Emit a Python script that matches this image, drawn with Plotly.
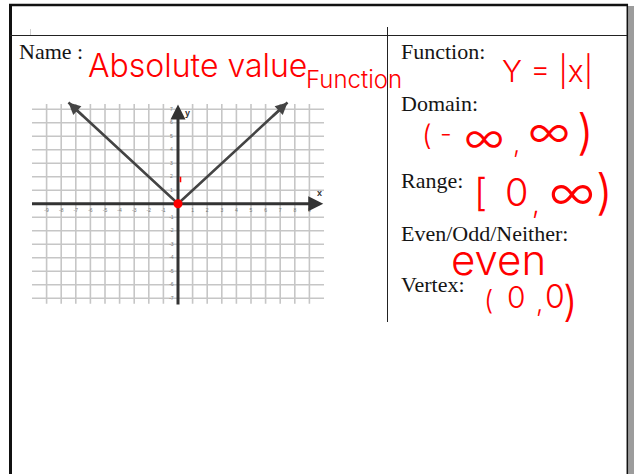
import plotly.graph_objects as go

W, H = 635, 474

# ---- data -------------------------------------------------------------
# y = |x| drawn through its vertex, ending at the arrow tips
curve_x = [-7.5, 0, 7.5]
curve_y = [7.5, 0, 7.5]
vertex = (0, 0)

grid_x = list(range(-9, 10))
grid_y = list(range(-7, 8))
x_tick_vals = [-9, -8, -7, -6, -5, -4, -3, -2, -1, 1, 2, 3, 4, 5, 6, 7, 8, 9]
y_tick_vals = [7, 6, 5, 4, 3, 2, 1, -1, -2, -3, -4, -5, -6, -7]

prompts = ["Name :", "Function:", "Domain:", "Range:", "Even/Odd/Neither:", "Vertex:"]
answers = ["Absolute value", "Function", "Y = |x|", "even"]

# ---- helpers: pixel -> paper -----------------------------------------
def px(x):
    return x / W


def py(y):
    return 1 - y / H


# axis geometry (origin at pixel 178, 203.8)
X_UNIT, Y_UNIT = 14.6, 13.5
OX, OY = 178.0, 203.8
XL, XR = 30.0, 326.0
YT, YB = 100.0, 307.6
x_range = [(XL - OX) / X_UNIT, (XR - OX) / X_UNIT]
y_range = [(OY - YB) / Y_UNIT, (OY - YT) / Y_UNIT]

fig = go.Figure()

GRID = "#c6c6c6"
AXIS = "#333333"
LINE = "#444444"
RED = "#ff0000"

shapes = []
# grid
for gx in grid_x:
    if gx == 0:
        continue
    shapes.append(dict(type="line", xref="x", yref="y", x0=gx, x1=gx, y0=-7.4, y1=7.4,
                       line=dict(color=GRID, width=1.6), layer="below"))
for gy in grid_y:
    if gy == 0:
        continue
    shapes.append(dict(type="line", xref="x", yref="y", x0=-10, x1=10, y0=gy, y1=gy,
                       line=dict(color=GRID, width=1.6), layer="below"))

# page frame
shapes += [
    dict(type="rect", xref="paper", yref="paper", x0=px(628), x1=px(634), y0=py(6), y1=py(475),
         line=dict(width=0), fillcolor="#9c9c9c"),
    dict(type="line", xref="paper", yref="paper", x0=px(627.3), x1=px(627.3), y0=py(4), y1=py(475),
         line=dict(color="#111111", width=1.5)),
    dict(type="line", xref="paper", yref="paper", x0=px(9), x1=px(628), y0=py(5), y1=py(5),
         line=dict(color="#111111", width=2.5)),
    dict(type="line", xref="paper", yref="paper", x0=px(10.5), x1=px(10.5), y0=py(4), y1=py(475),
         line=dict(color="#111111", width=3)),
    dict(type="line", xref="paper", yref="paper", x0=px(10), x1=px(627), y0=py(35.5), y1=py(35.5),
         line=dict(color="#222222", width=1.2)),
    dict(type="line", xref="paper", yref="paper", x0=px(387.5), x1=px(387.5), y0=py(27), y1=py(322),
         line=dict(color="#222222", width=1)),
    dict(type="line", xref="paper", yref="paper", x0=px(30.5), x1=px(30.5), y0=py(29), y1=py(35),
         line=dict(color="#d0d0d0", width=1)),
]

# coordinate axes (arrowheads added as annotations below)
fig.add_trace(go.Scatter(x=[-10, 9.6], y=[0, 0], mode="lines",
                         line=dict(color=AXIS, width=3), hoverinfo="skip"))
fig.add_trace(go.Scatter(x=[0, 0], y=[-7.45, 7.0], mode="lines",
                         line=dict(color=AXIS, width=3), hoverinfo="skip"))
# the absolute value graph
fig.add_trace(go.Scatter(x=curve_x, y=curve_y, mode="lines",
                         line=dict(color=LINE, width=2.6), hoverinfo="skip"))
fig.add_trace(go.Scatter(x=[vertex[0]], y=[vertex[1]], mode="markers",
                         marker=dict(color=RED, size=9), hoverinfo="skip"))
# small red pen mark near the y-axis
fig.add_trace(go.Scatter(x=[0.17, 0.17], y=[1.6, 2.0], mode="lines",
                         line=dict(color=RED, width=1.6), hoverinfo="skip"))
# tick numbers
fig.add_trace(go.Scatter(x=x_tick_vals, y=[-0.5] * len(x_tick_vals), mode="text",
                         text=[str(v) for v in x_tick_vals],
                         textfont=dict(size=5, color="#777777", family="Liberation Sans"),
                         hoverinfo="skip"))
fig.add_trace(go.Scatter(x=[-0.45] * len(y_tick_vals), y=y_tick_vals, mode="text",
                         text=[str(v) for v in y_tick_vals],
                         textfont=dict(size=5, color="#777777", family="Liberation Sans"),
                         hoverinfo="skip"))

annotations = []


def arrow(x, y, ax, ay, color, width):
    annotations.append(dict(x=x, y=y, ax=ax, ay=ay, xref="x", yref="y", axref="x", ayref="y",
                            text="", showarrow=True, arrowhead=2, arrowsize=1.0,
                            arrowwidth=width, arrowcolor=color))


# axis arrowheads
arrow(9.95, 0, 9.0, 0, AXIS, 3)
arrow(0, 7.35, 0, 6.5, AXIS, 3)
# arrowheads on the ends of y = |x|
arrow(curve_x[0], curve_y[0], curve_x[0] * 0.85, curve_y[0] * 0.85, LINE, 2.4)
arrow(curve_x[-1], curve_y[-1], curve_x[-1] * 0.85, curve_y[-1] * 0.85, LINE, 2.4)

# axis letters
annotations.append(dict(x=9.66, y=0.8, xref="x", yref="y", text="<b>x</b>", showarrow=False,
                        font=dict(size=9, color="#333333", family="Liberation Sans")))
annotations.append(dict(x=0.65, y=6.7, xref="x", yref="y", text="<b>y</b>", showarrow=False,
                        font=dict(size=9, color="#333333", family="Liberation Sans")))

# printed prompts
prompt_pos = [(17, 51), (399, 51), (399, 103), (399, 180), (399, 233), (399, 284)]
for label, (lx, ly) in zip(prompts, prompt_pos):
    annotations.append(dict(x=px(lx), y=py(ly), xref="paper", yref="paper", text=label,
                            showarrow=False, xanchor="left", yanchor="middle",
                            font=dict(size=22, color="#151515", family="Liberation Serif")))

HAND = "Inter"


def hand(text, x, y, size, weight=300):
    annotations.append(dict(x=px(x), y=py(y), xref="paper", yref="paper", text=text,
                            showarrow=False, xanchor="center", yanchor="middle",
                            font=dict(size=size, color=RED, family=HAND, weight=weight)))


# handwritten answers
hand(answers[0], 197, 66, 32)
hand(answers[1], 354, 80, 24)
hand(answers[2], 547, 71, 30)
# domain (-inf, inf)
hand("(", 427, 135, 28)
hand("-", 446, 133, 26)
hand("∞", 484, 137, 44)
hand(",", 516, 143, 26)
hand("∞", 549, 131, 46)
hand(")", 585, 131, 48)
# range [0, inf)
hand("[", 480, 192, 38)
hand("0", 516, 192, 38)
hand(",", 536, 203, 28)
hand("∞", 572, 192, 50)
hand(")", 604, 192, 48)
# even
hand(answers[3], 498, 259, 42)
# vertex (0, 0)
hand("(", 488, 300, 27)
hand("0", 516, 297, 30)
hand(",", 539, 302, 26)
hand("0", 555, 296, 32)
hand(")", 570, 300, 42)

fig.update_layout(
    width=W, height=H,
    margin=dict(l=0, r=0, t=0, b=0),
    paper_bgcolor="white", plot_bgcolor="rgba(0,0,0,0)",
    showlegend=False,
    xaxis=dict(domain=[px(XL), px(XR)], range=x_range, visible=False, fixedrange=True),
    yaxis=dict(domain=[py(YB), py(YT)], range=y_range, visible=False, fixedrange=True),
    shapes=shapes,
    annotations=annotations,
)

fig.write_html("out.html")
